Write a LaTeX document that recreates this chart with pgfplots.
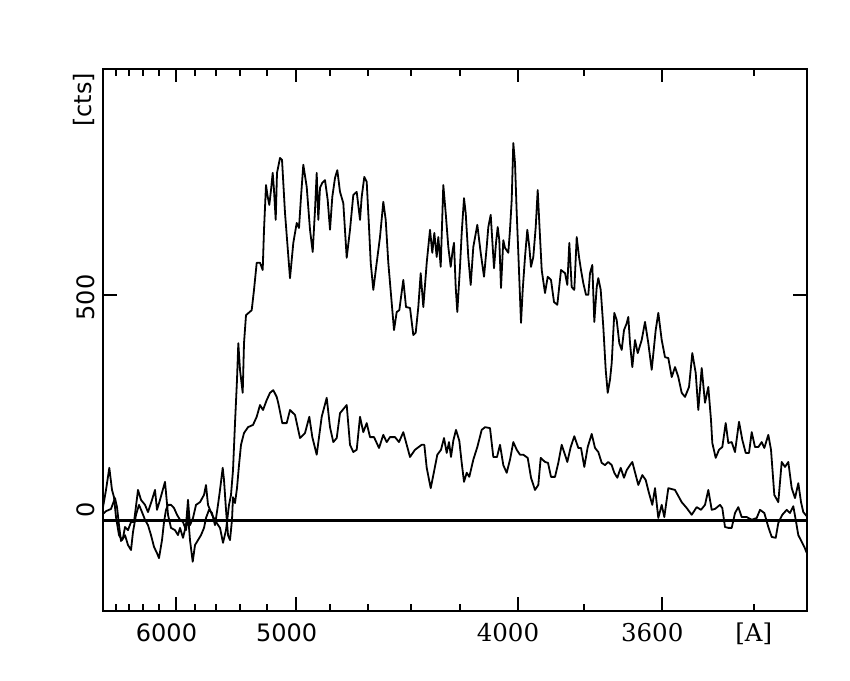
\documentclass[border=0pt]{standalone}
\usepackage{pgfplots}
\pgfplotsset{compat=1.18}
\usepackage{fontspec}
\setmainfont{DejaVu Sans}
\newfontfamily\sansf{DejaVu Sans}
\newfontfamily\seriff{DejaVu Serif}
\newcommand{\sfl}{\sansf\fontsize{24}{28}\selectfont}
\newcommand{\srl}{\seriff\fontsize{24.5}{28}\selectfont}
\begin{document}
\begin{tikzpicture}[x=1pt,y=1pt]
\begin{axis}[
  at={(103pt,69pt)}, anchor=south west,
  scale only axis, width=703.7pt, height=542pt,
  xmin=2.0355, xmax=9.1906, ymin=-200, ymax=1000,
  axis line style={line width=2.2pt},
  every tick/.style={black, line width=2pt},
  major tick length=13.5pt, minor tick length=7pt,
  tick align=inside,
  xtick={2.7778,4,6.25,7.7160},
  xticklabels={{\sfl 6000},{\sfl 5000},{\srl 4000},{\srl 3600}},
  xticklabel style={anchor=base, yshift=-30.7pt, xshift=-9.5pt},
  minor xtick={2.1626,2.2957,2.4414,2.6015,2.9727,3.1888,3.4294,3.6982,4.3403,4.7259,5.1653,5.6689,6.9252,8.6505},
  ytick={0,500}, yticklabels={,,},
  clip=true,
]
\addplot[black, line width=2.4pt] coordinates {(2.0355,0) (9.1906,0)};
\addplot[black, line width=1.8pt, line join=round] coordinates {
(2.0355,15) (2.0661,21) (2.1169,26) (2.1576,50) (2.1779,30) (2.1982,-10) (2.2186,-45) (2.2389,-38) (2.2592,-14) (2.2897,-21) (2.3203,-3) (2.3508,-3) (2.3914,68) (2.4219,46) (2.4626,35) (2.4931,19) (2.5338,46) (2.5643,68) (2.5846,24) (2.6151,46) (2.6660,86) (2.6965,13) (2.7270,-16) (2.7676,-21) (2.7981,-32) (2.8185,-16) (2.8490,-38) (2.8795,-10) (2.8998,46) (2.9201,-10) (2.9507,6) (2.9812,35) (3.0218,41) (3.0625,57) (3.0828,79) (3.1032,35) (3.1438,13) (3.1845,-3) (3.2252,-16) (3.2557,-49) (3.2862,-21) (3.3167,35) (3.3370,57) (3.3574,112) (3.3777,216) (3.3980,312) (3.4113,393) (3.4285,334) (3.4560,283) (3.4692,393) (3.4895,455) (3.5475,466) (3.5709,511) (3.5983,571) (3.6319,571) (3.6593,555) (3.6726,644) (3.6929,743) (3.7102,717) (3.7265,699) (3.7437,732) (3.7610,770) (3.7742,732) (3.7915,666) (3.8047,770) (3.8352,803) (3.8556,799) (3.8861,681) (3.9369,537) (3.9705,615) (4.0051,659) (4.0284,648) (4.0488,717) (4.0722,788) (4.1067,739) (4.1403,644) (4.1677,595) (4.1911,688) (4.2084,770) (4.2247,666) (4.2420,737) (4.2653,748) (4.2928,754) (4.3202,710) (4.3436,644) (4.3670,717) (4.3945,759) (4.4179,776) (4.4453,728) (4.4789,703) (4.5134,582) (4.5470,644) (4.5805,721) (4.6151,728) (4.6487,666) (4.6659,717) (4.6924,761) (4.7168,750) (4.7402,650) (4.7575,571) (4.7839,511) (4.8185,571) (4.8520,628) (4.8856,706) (4.9100,666) (4.9364,571) (4.9710,482) (4.9944,422) (5.0218,462) (5.0483,466) (5.0889,533) (5.1164,473) (5.1571,471) (5.1906,411) (5.2150,416) (5.2415,473) (5.2658,548) (5.2923,473) (5.3269,571) (5.3604,644) (5.3838,593) (5.4042,637) (5.4286,584) (5.4448,628) (5.4692,562) (5.4956,743) (5.5200,681) (5.5465,606) (5.5709,562) (5.5912,599) (5.6044,615) (5.6217,517) (5.6380,462) (5.6654,562) (5.6827,637) (5.7061,714) (5.7234,681) (5.7498,584) (5.7742,522) (5.8007,606) (5.8414,655) (5.8759,593) (5.9095,540) (5.9369,606) (5.9532,650) (5.9776,677) (5.9979,606) (6.0112,559) (6.0315,615) (6.0488,650) (6.0650,621) (6.0823,515) (6.1057,621) (6.1230,604) (6.1566,593) (6.1738,644) (6.1911,710) (6.2074,836) (6.2247,792) (6.2420,681) (6.2582,593) (6.2857,438) (6.3030,511) (6.3264,584) (6.3498,644) (6.3701,606) (6.3874,562) (6.4108,584) (6.4352,650) (6.4555,732) (6.4718,659) (6.4962,555) (6.5297,504) (6.5572,540) (6.5907,533) (6.6212,484) (6.6548,478) (6.6924,555) (6.7331,548) (6.7565,522) (6.7768,615) (6.8012,517) (6.8276,511) (6.8520,628) (6.8754,584) (6.8957,555) (6.9191,526) (6.9466,500) (6.9700,500) (6.9872,548) (7.0106,566) (7.0310,440) (7.0554,517) (7.0717,537) (7.0961,511) (7.1225,429) (7.1469,334) (7.1672,283) (7.1906,312) (7.2079,349) (7.2343,460) (7.2587,444) (7.2852,393) (7.3096,378) (7.3330,422) (7.3604,437) (7.3767,451) (7.3940,393) (7.4174,340) (7.4448,400) (7.4723,371) (7.5129,400) (7.5465,440) (7.5800,393) (7.6146,334) (7.6553,422) (7.6817,460) (7.7163,400) (7.7498,362) (7.7834,360) (7.8180,318) (7.8515,340) (7.8851,318) (7.9196,283) (7.9532,274) (7.9939,296) (8.0274,371) (8.0620,327) (8.0884,245) (8.1230,338) (8.1565,261) (8.1901,296) (8.2175,223) (8.2308,172) (8.2653,139) (8.2989,157) (8.3324,163) (8.3670,216) (8.3935,172) (8.4280,174) (8.4616,152) (8.5023,219) (8.5358,179) (8.5704,150) (8.6039,150) (8.6314,196) (8.6649,163) (8.6985,163) (8.7331,174) (8.7595,161) (8.8002,190) (8.8276,157) (8.8612,57) (8.9018,41) (8.9364,130) (8.9700,119) (9.0035,130) (9.0381,72) (9.0716,50) (9.1052,83) (9.1327,41) (9.1560,19) (9.1906,10)
};
\addplot[black, line width=1.8pt, line join=round] coordinates {
(2.0355,30) (2.0661,68) (2.0996,117) (2.1271,68) (2.1474,52) (2.1677,8) (2.1982,-32) (2.2287,-43) (2.2592,-32) (2.2897,-54) (2.3203,-65) (2.3406,-25) (2.3711,13) (2.4016,35) (2.4321,19) (2.4626,2) (2.4931,-10) (2.5236,-32) (2.5541,-58) (2.5846,-72) (2.6049,-83) (2.6355,-43) (2.6558,-3) (2.6761,24) (2.6965,35) (2.7270,35) (2.7575,28) (2.7880,13) (2.8185,2) (2.8490,-3) (2.8795,-21) (2.8998,13) (2.9201,-43) (2.9476,-91) (2.9710,-54) (3.0015,-43) (3.0320,-32) (3.0625,-16) (3.0828,6) (3.1133,24) (3.1438,17) (3.1743,-10) (3.2048,35) (3.2252,68) (3.2526,117) (3.2659,90) (3.2862,24) (3.3065,-32) (3.3269,-43) (3.3472,2) (3.3574,52) (3.3777,39) (3.3980,72) (3.4184,123) (3.4387,168) (3.4692,194) (3.5099,207) (3.5607,212) (3.5983,230) (3.6319,256) (3.6624,245) (3.7000,267) (3.7336,283) (3.7671,289) (3.8017,274) (3.8180,260) (3.8586,216) (3.9034,216) (3.9369,245) (3.9878,234) (4.0386,183) (4.0894,194) (4.1332,230) (4.1637,185) (4.2084,146) (4.2592,230) (4.3101,272) (4.3436,207) (4.3772,174) (4.4118,183) (4.4453,238) (4.5134,256) (4.5470,168) (4.5805,152) (4.6151,157) (4.6487,230) (4.6822,196) (4.7168,216) (4.7504,185) (4.7910,185) (4.8419,161) (4.8856,190) (4.9201,174) (4.9537,185) (5.0045,185) (5.0452,174) (5.0889,196) (5.1235,168) (5.1571,141) (5.2079,157) (5.2760,168) (5.3025,168) (5.3269,117) (5.3675,72) (5.4042,112) (5.4347,146) (5.4723,157) (5.5028,183) (5.5302,150) (5.5536,174) (5.5739,141) (5.5973,177) (5.6248,201) (5.6583,177) (5.6827,128) (5.7061,86) (5.7336,106) (5.7600,97) (5.8007,135) (5.8414,163) (5.8861,201) (5.9197,207) (5.9705,205) (6.0041,141) (6.0417,141) (6.0722,168) (6.1057,123) (6.1403,106) (6.1738,135) (6.2074,174) (6.2420,157) (6.2755,146) (6.3091,146) (6.3538,139) (6.3874,95) (6.4280,68) (6.4616,79) (6.4860,139) (6.5297,130) (6.5602,128) (6.5907,97) (6.6314,97) (6.6649,128) (6.6995,168) (6.7331,146) (6.7565,130) (6.7910,163) (6.8276,187) (6.8683,161) (6.8957,161) (6.9293,119) (6.9639,163) (7.0045,192) (7.0381,161) (7.0717,152) (7.1062,128) (7.1398,123) (7.1733,130) (7.2079,123) (7.2343,106) (7.2648,95) (7.2994,117) (7.3330,95) (7.3604,112) (7.3940,123) (7.4174,130) (7.4784,79) (7.5191,101) (7.5536,90) (7.5872,61) (7.6207,35) (7.6482,72) (7.6817,6) (7.7163,35) (7.7427,8) (7.7834,72) (7.8515,68) (7.9196,41) (7.9705,28) (8.0213,13) (8.0721,30) (8.1159,24) (8.1565,35) (8.1901,68) (8.2247,24) (8.2582,26) (8.3091,35) (8.3324,28) (8.3599,-14) (8.3935,-16) (8.4280,-16) (8.4616,17) (8.4951,30) (8.5297,8) (8.5805,8) (8.6314,2) (8.6822,6) (8.7158,24) (8.7595,17) (8.8002,-14) (8.8348,-36) (8.8755,-38) (8.9018,-5) (8.9424,13) (8.9872,24) (9.0208,17) (9.0543,32) (9.0787,2) (9.1052,-32) (9.1398,-47) (9.1662,-58) (9.1906,-71)
};
\end{axis}
\node[anchor=base, font=\srl] at (753.7pt,38.3pt) {[A]};
\node[rotate=90, anchor=center, font=\sfl] at (86pt,382.5pt) {500};
\node[rotate=90, anchor=center, font=\sfl] at (85.5pt,170pt) {0};
\node[rotate=90, anchor=center, font=\sfl] at (83.5pt,580pt) {[cts]};
\pgfresetboundingbox
\path[use as bounding box] (0,0) rectangle (850pt,680pt);
\end{tikzpicture}
\end{document}
